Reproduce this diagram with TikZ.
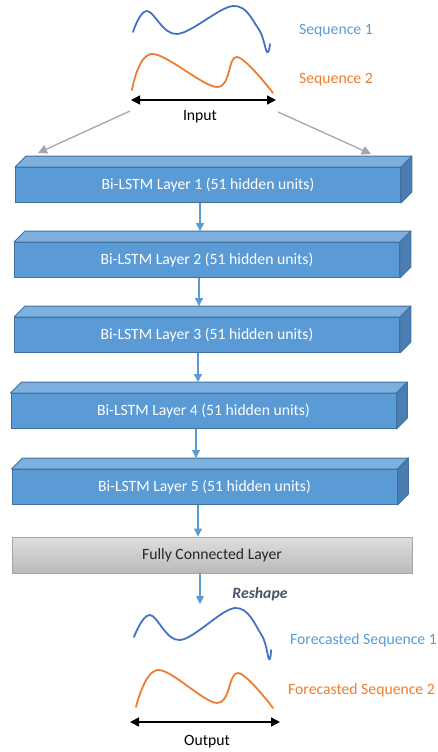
\documentclass[tikz,border=0pt]{standalone}
\usepackage{fontspec}
\setmainfont{Carlito}
\usetikzlibrary{arrows.meta,positioning,calc}
\definecolor{lstmFront}{HTML}{5B9BD5}
\definecolor{lstmTop}{HTML}{7DAFDF}
\definecolor{lstmSide}{HTML}{4A7EB3}
\definecolor{lstmEdge}{HTML}{41719C}
\definecolor{seqBlue}{HTML}{4472C4}
\definecolor{seqOrange}{HTML}{ED7D31}
\definecolor{labBlue}{HTML}{5B9BD5}
\definecolor{fcEdge}{HTML}{A6A6A6}
\definecolor{reshapeInk}{HTML}{44546A}
\definecolor{guideGray}{HTML}{A6A6A6}

\begin{document}
\begin{tikzpicture}[x=1pt,y=-1pt,font=\fontsize{15.7}{18}\selectfont,
    layerbox/.style={draw=lstmEdge,fill=lstmFront,line width=0.9pt,
                     minimum width=385pt,minimum height=35pt,inner sep=0pt,
                     text=white},
    layertop/.style={draw=lstmEdge,fill=lstmTop,line width=0.9pt,line join=round},
    layerside/.style={draw=lstmEdge,fill=lstmSide,line width=0.9pt,line join=round},
    fcbox/.style={draw=fcEdge,top color=black!13,bottom color=black!27,
                  line width=0.9pt,minimum width=400pt,minimum height=36pt,
                  inner sep=0pt,text=black!85},
    seqline/.style={line width=1.8pt,line cap=round},
    lab/.style={inner sep=0pt},
    flow/.style={draw=lstmFront,line width=1.1pt,-{Triangle[length=8pt,width=8pt]}},
    guide/.style={draw=guideGray,line width=1.3pt,-{Triangle[length=9pt,width=9pt]}},
    span/.style={draw=black,line width=1.4pt,
                 {Triangle[length=9pt,width=9pt]}-{Triangle[length=9pt,width=9pt]}}]
  \useasboundingbox (0,0) rectangle (437,752);

  % input sequences
  \draw[seqline,seqBlue] plot[smooth,tension=0.6] coordinates
    {(133,32) (147,11) (177,34) (233,6) (258,28) (267,52) (270,44)};
  \draw[seqline,seqOrange] plot[smooth,tension=0.6] coordinates
    {(132,90) (152,54) (217,87) (237,57) (273,93)};
  \node[lab,text=labBlue,anchor=west]   (seq1) at (299,31) {Sequence 1};
  \node[lab,text=seqOrange,anchor=west] (seq2) at (299,80) {Sequence 2};
  \coordinate (inL) at (131,100);
  \coordinate (inR) at (276,100);
  \draw[span] (inL) -- (inR);
  \node[lab] (inp) at (200,117) {Input};
  \coordinate (gL) at (130,111);
  \coordinate (gLend) at (38,153);
  \coordinate (gR) at (278,112);
  \coordinate (gRend) at (371,154);
  \draw[guide] (gL) -- (gLend);
  \draw[guide] (gR) -- (gRend);

  % Bi-LSTM stack
  \node[layerbox] (l1) at (208,185)   {Bi-LSTM Layer 1 (51 hidden units)};
  \node[layerbox] (l2) at (207,260)   {Bi-LSTM Layer 2 (51 hidden units)};
  \node[layerbox] (l3) at (207,335)   {Bi-LSTM Layer 3 (51 hidden units)};
  \node[layerbox] (l4) at (203.5,411) {Bi-LSTM Layer 4 (51 hidden units)};
  \node[layerbox] (l5) at (204.5,487) {Bi-LSTM Layer 5 (51 hidden units)};
  \foreach \n in {l1,l2,l3,l4,l5} {
    \draw[layertop] (\n.north west) -- ++(11,-11)
      -- ([shift={(11,-11)}]\n.north east) -- (\n.north east) -- cycle;
    \draw[layerside] (\n.north east) -- ++(11,-11)
      -- ([shift={(11,-11)}]\n.south east) -- (\n.south east) -- cycle;
  }
  \draw[flow] ([xshift=-8pt]l1.south)   -- ([xshift=-7pt,yshift=11pt]l2.north);
  \draw[flow] ([xshift=-8pt]l2.south)   -- ([xshift=-8pt,yshift=11pt]l3.north);
  \draw[flow] ([xshift=-9pt]l3.south)   -- ([xshift=-5.5pt,yshift=11pt]l4.north);
  \draw[flow] ([xshift=-7.5pt]l4.south) -- ([xshift=-8.5pt,yshift=11pt]l5.north);

  % dense layer and reshape
  \node[fcbox] (fc) at (212,555) {Fully Connected Layer};
  \draw[flow] ([xshift=-6.5pt]l5.south) -- ([xshift=-14pt]fc.north);
  \coordinate (rs) at (200,604);
  \draw[flow] (fc.south -| rs) -- (rs);
  \node[lab,text=reshapeInk,font=\fontsize{15.7}{18}\selectfont\bfseries\itshape]
    (resh) at (260,594) {Reshape};

  % forecasted sequences
  \draw[seqline,seqBlue] plot[smooth,tension=0.6] coordinates
    {(134,637) (150,615) (180,640) (235,608) (261,634) (269,659) (271,650)};
  \draw[seqline,seqOrange] plot[smooth,tension=0.6] coordinates
    {(136,707) (158,670) (217,703) (238,673) (273,708)};
  \node[lab,text=labBlue,anchor=west]   (fseq1) at (290,640) {Forecasted Sequence 1};
  \node[lab,text=seqOrange,anchor=west] (fseq2) at (288,690) {Forecasted Sequence 2};
  \coordinate (outL) at (130,722);
  \coordinate (outR) at (280,722);
  \draw[span] (outL) -- (outR);
  \node[lab] (outp) at (207,742) {Output};
\end{tikzpicture}
\end{document}
